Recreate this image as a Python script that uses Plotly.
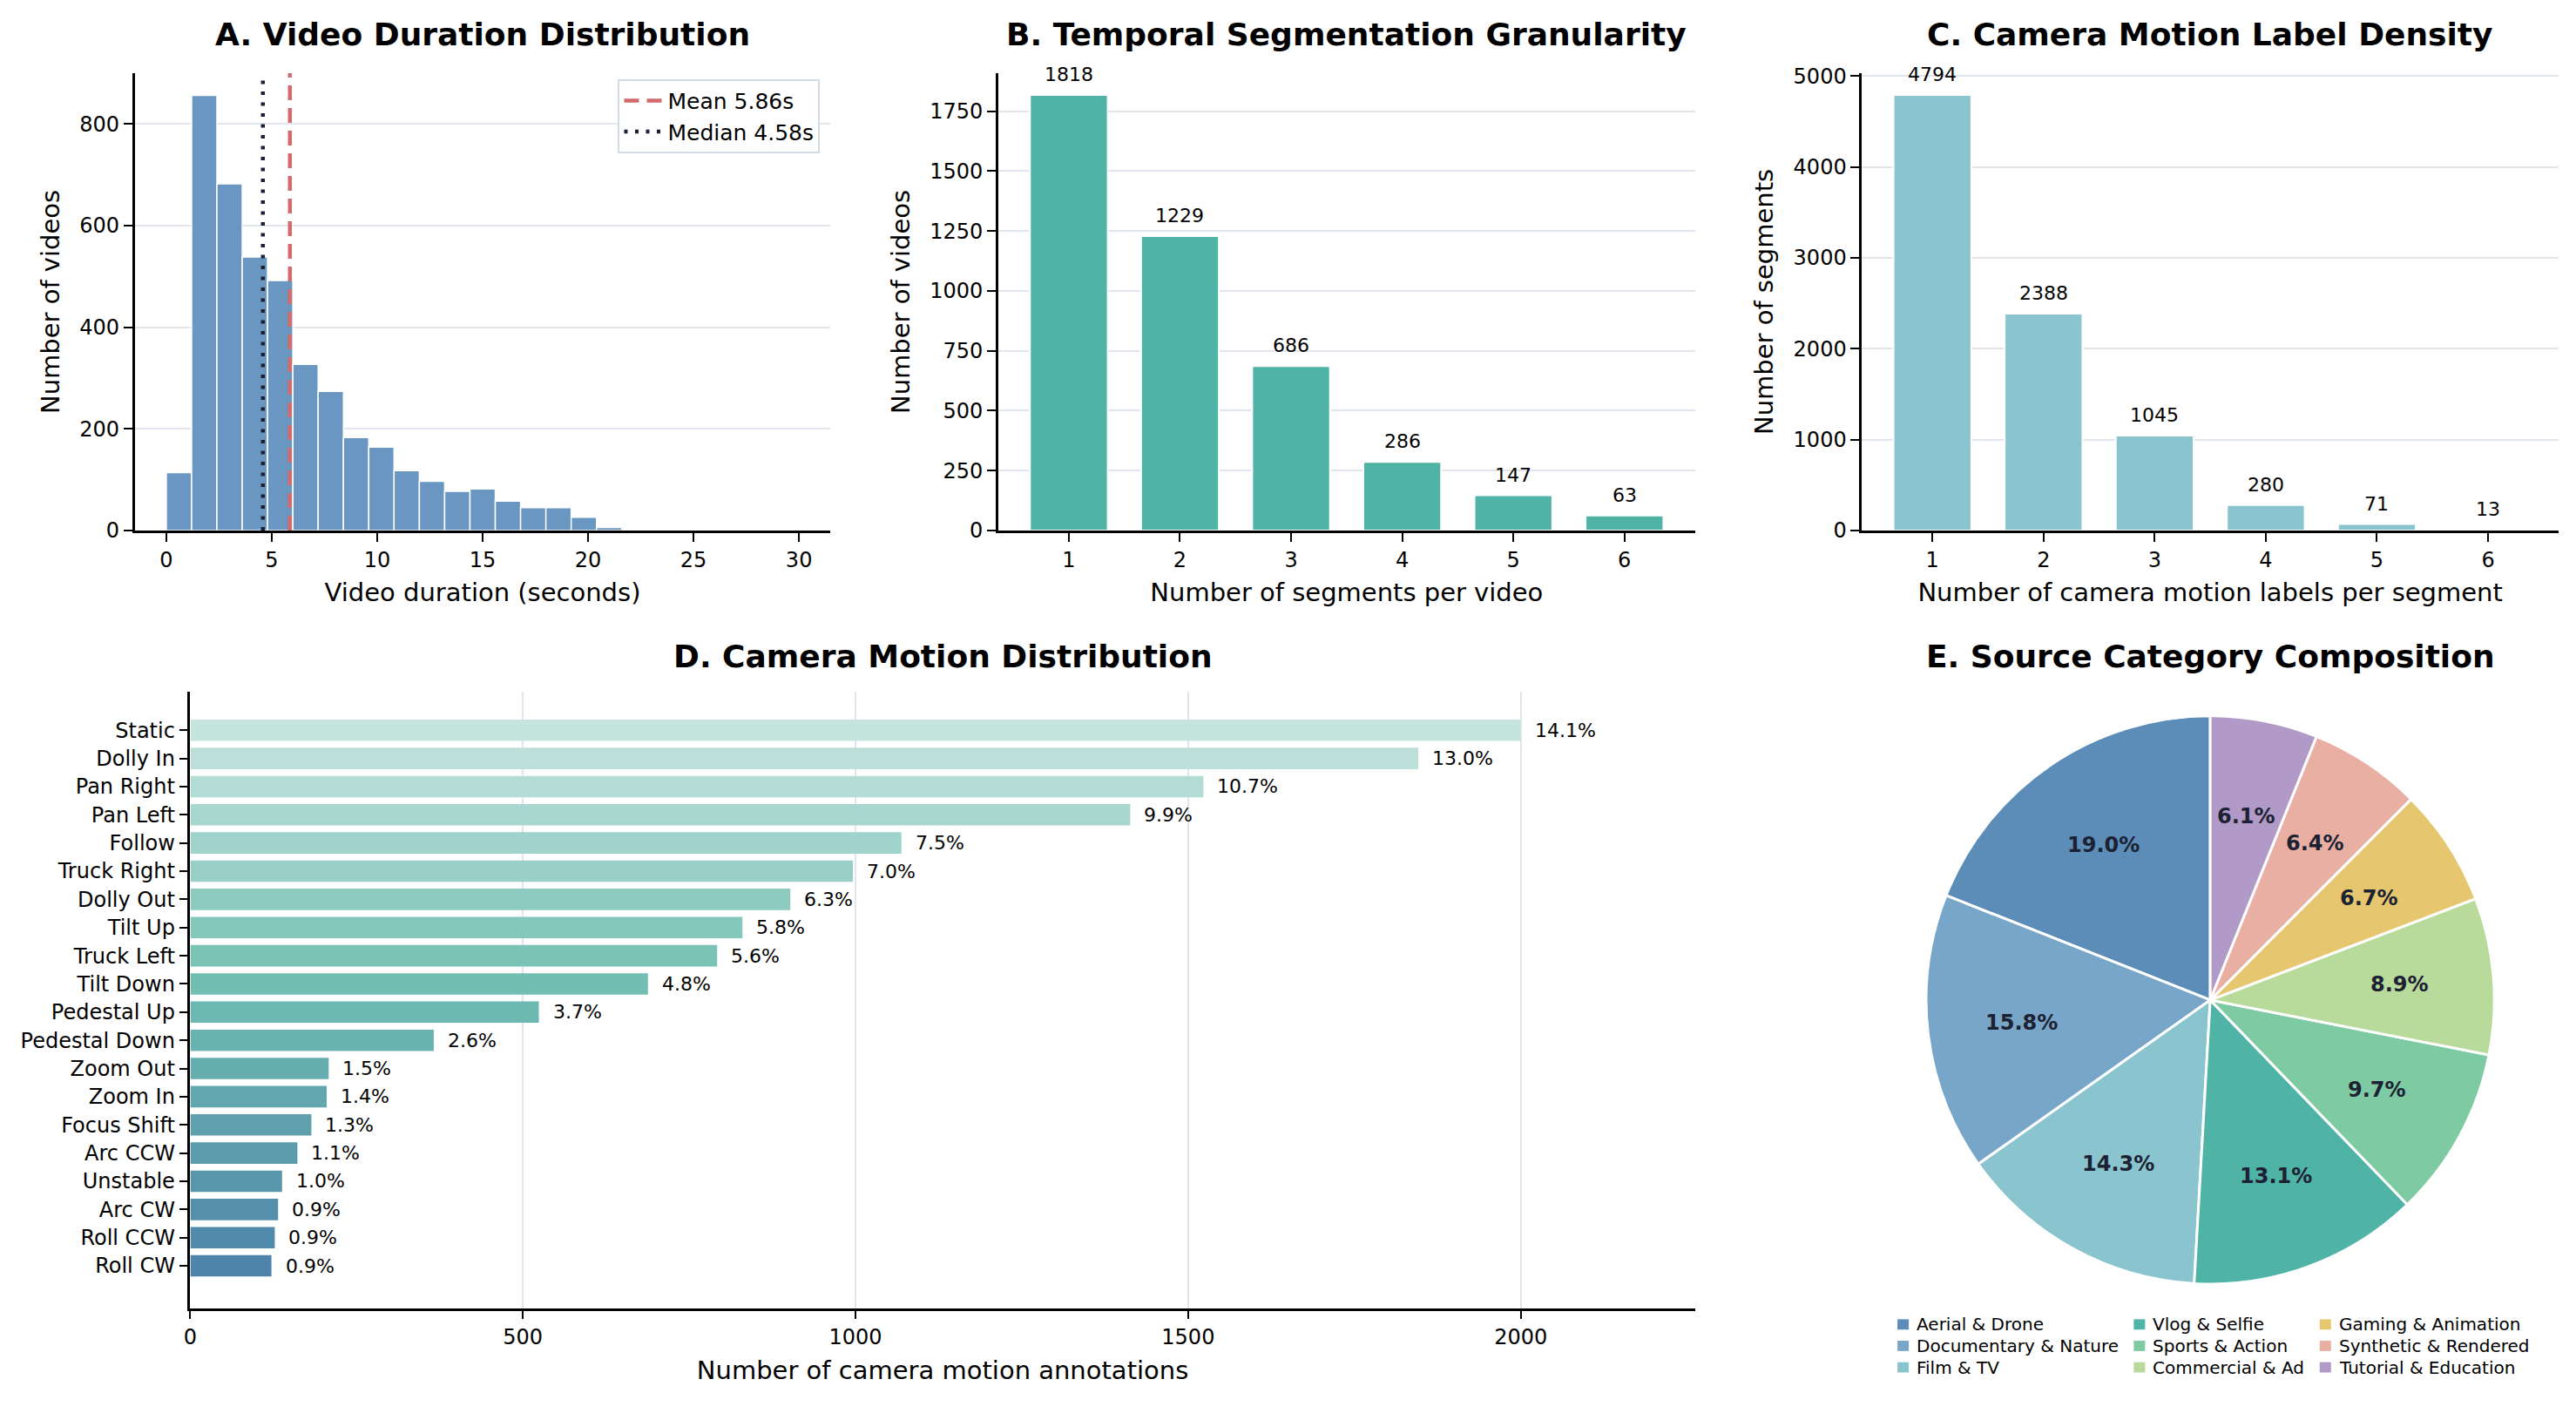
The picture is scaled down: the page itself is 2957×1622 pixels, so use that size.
import numpy as np
import plotly.graph_objects as go

# ---- A. durée des vidéos (histogramme déjà compté, 25 classes de 0 à 30 s)
duration_edges = np.linspace(0, 30, 26)
duration_counts = [114, 856, 682, 538, 492, 327, 274, 183, 164, 118, 97, 77, 82,
                   58, 45, 45, 26, 6, 0, 0, 0, 0, 0, 0, 0]
mean_duration = 5.86
median_duration = 4.58

# ---- B. segments par vidéo
segments_per_video = [1, 2, 3, 4, 5, 6]
videos_count = [1818, 1229, 686, 286, 147, 63]

# ---- C. labels de mouvement par segment
labels_per_segment = [1, 2, 3, 4, 5, 6]
segments_count = [4794, 2388, 1045, 280, 71, 13]

# ---- D. mouvements de caméra
motion_names = ["Static", "Dolly In", "Pan Right", "Pan Left", "Follow", "Truck Right",
                "Dolly Out", "Tilt Up", "Truck Left", "Tilt Down", "Pedestal Up",
                "Pedestal Down", "Zoom Out", "Zoom In", "Focus Shift", "Arc CCW",
                "Unstable", "Arc CW", "Roll CCW", "Roll CW"]
motion_counts = [2000, 1846, 1523, 1413, 1069, 996, 902, 830, 792, 688, 524, 366,
                 208, 205, 182, 161, 138, 132, 127, 122]

# ---- E. catégories de sources
source_names = ["Aerial & Drone", "Documentary & Nature", "Film & TV", "Vlog & Selfie",
                "Sports & Action", "Commercial & Ad", "Gaming & Animation",
                "Synthetic & Rendered", "Tutorial & Education"]
source_share = [19.0, 15.8, 14.3, 13.1, 9.7, 8.9, 6.7, 6.4, 6.1]
source_colors = ["#5b8db8", "#78a6c8", "#8ac5cf", "#4fb3a5", "#7ecba3",
                 "#b8da9a", "#e6c770", "#e8afa2", "#b19ac7"]

W, H = 2957, 1622
FONT = "DejaVu Sans"
GRID = "#e1e6ee"


def fx(p):
    return p / W


def fy(p):
    return 1 - p / H


def hex_rgb(h):
    return np.array([int(h[i:i + 2], 16) for i in (1, 3, 5)], dtype=float)


def gradient(n, anchors):
    # dégradé sur plusieurs couleurs
    pos = np.linspace(0, 1, len(anchors))
    cols = [hex_rgb(a) for a in anchors]
    out = []
    for t in np.linspace(0, 1, n):
        k = min(np.searchsorted(pos, t, side="right") - 1, len(anchors) - 2)
        u = (t - pos[k]) / (pos[k + 1] - pos[k])
        c = cols[k] * (1 - u) + cols[k + 1] * u
        out.append("rgb(%d,%d,%d)" % tuple(np.round(c)))
    return out


fig = go.Figure()

# A
centers = (duration_edges[:-1] + duration_edges[1:]) / 2
fig.add_trace(go.Bar(x=centers, y=duration_counts, width=duration_edges[1] - duration_edges[0],
                     marker=dict(color="#6a97c1", line=dict(color="white", width=1.5)),
                     showlegend=False, xaxis="x", yaxis="y"))
a_top = 900
fig.add_trace(go.Scatter(x=[mean_duration, mean_duration], y=[0, a_top], mode="lines",
                         line=dict(color="#d46a6a", width=4.5, dash="17px,9px"),
                         name=f"Mean {mean_duration:.2f}s", xaxis="x", yaxis="y"))
fig.add_trace(go.Scatter(x=[median_duration, median_duration], y=[0, a_top], mode="lines",
                         line=dict(color="#1a2035", width=4.5, dash="4px,8.5px"),
                         name=f"Median {median_duration:.2f}s", xaxis="x", yaxis="y"))

# B
fig.add_trace(go.Bar(x=segments_per_video, y=videos_count, width=0.7,
                     marker=dict(color="#4fb3a5", line=dict(color="white", width=2)),
                     showlegend=False, xaxis="x2", yaxis="y2"))
# C
fig.add_trace(go.Bar(x=labels_per_segment, y=segments_count, width=0.7,
                     marker=dict(color="#8ac5cf", line=dict(color="white", width=2)),
                     showlegend=False, xaxis="x3", yaxis="y3"))
# D
d_colors = gradient(len(motion_names), ["#c5e4de", "#6dbcb0", "#4e84aa"])
fig.add_trace(go.Bar(x=motion_counts, y=motion_names, orientation="h",
                     marker=dict(color=d_colors, line=dict(width=0)),
                     showlegend=False, xaxis="x4", yaxis="y4"))

# E : premier secteur qui part de midi vers la gauche (sens anti-horaire)
pie_cx, pie_cy, pie_r = 2536, 1155, 331
fig.add_trace(go.Pie(labels=source_names, values=source_share, sort=False,
                     direction="counterclockwise",
                     rotation=-360 * source_share[0] / sum(source_share),
                     marker=dict(colors=source_colors, line=dict(color="white", width=3)),
                     textinfo="none", showlegend=False,
                     domain=dict(x=[fx(pie_cx - pie_r), fx(pie_cx + pie_r)],
                                 y=[fy(pie_cy + pie_r), fy(pie_cy - pie_r)])))

axis = dict(showline=True, linecolor="black", linewidth=2.5, ticks="outside", ticklen=10,
            tickwidth=2.2, tickcolor="black", tickfont=dict(size=24, color="black"),
            zeroline=False, gridcolor=GRID, gridwidth=2)
title_font = dict(size=29, color="black")

fig.update_layout(
    width=W, height=H, margin=dict(l=0, r=0, t=0, b=0),
    paper_bgcolor="white", plot_bgcolor="white",
    font=dict(family=FONT, color="black"),
    bargap=0.24,
    xaxis=dict(axis, domain=[fx(147), fx(948)], anchor="y", range=[-1.5, 31.5],
               tickvals=[0, 5, 10, 15, 20, 25, 30], showgrid=False,
               title=dict(text="Video duration (seconds)", font=title_font)),
    yaxis=dict(axis, domain=[fy(608), fy(75)], anchor="x", range=[0, a_top],
               tickvals=[0, 200, 400, 600, 800], showgrid=True,
               title=dict(text="Number of videos", font=title_font)),
    xaxis2=dict(axis, domain=[fx(1141), fx(1943)], anchor="y2", range=[0.365, 6.635],
                tickvals=segments_per_video, showgrid=False,
                title=dict(text="Number of segments per video", font=title_font)),
    yaxis2=dict(axis, domain=[fy(608), fy(75)], anchor="x2", range=[0, 1909],
                tickvals=[0, 250, 500, 750, 1000, 1250, 1500, 1750], showgrid=True,
                title=dict(text="Number of videos", font=title_font)),
    xaxis3=dict(axis, domain=[fx(2135), fx(2937)], anchor="y3", range=[0.365, 6.635],
                tickvals=labels_per_segment, showgrid=False,
                title=dict(text="Number of camera motion labels per segment", font=title_font)),
    yaxis3=dict(axis, domain=[fy(608), fy(75)], anchor="x3", range=[0, 5034],
                tickvals=[0, 1000, 2000, 3000, 4000, 5000], showgrid=True,
                title=dict(text="Number of segments", font=title_font)),
    xaxis4=dict(axis, domain=[fx(211), fx(1943)], anchor="y4", range=[0, 2262],
                tickvals=[0, 500, 1000, 1500, 2000], showgrid=True,
                title=dict(text="Number of camera motion annotations", font=title_font)),
    yaxis4=dict(axis, domain=[fy(1514), fy(796)], anchor="x4", type="category",
                categoryorder="array", categoryarray=motion_names,
                range=[len(motion_names) + 0.5, -1.36], showgrid=False),
    legend=dict(x=fx(936), xanchor="right", y=fy(82), yanchor="top",
                bordercolor="#d3dce6", borderwidth=2, bgcolor="rgba(255,255,255,0.9)",
                font=dict(size=25, color="black"), tracegroupgap=0, itemwidth=45),
)

# titres des panneaux
titles = [("A. Video Duration Distribution", (147 + 948) / 2, 30),
          ("B. Temporal Segmentation Granularity", (1141 + 1943) / 2, 30),
          ("C. Camera Motion Label Density", (2135 + 2937) / 2, 30),
          ("D. Camera Motion Distribution", (211 + 1943) / 2, 755),
          ("E. Source Category Composition", pie_cx, 755)]
for txt, x, y in titles:
    fig.add_annotation(text=f"<b>{txt}</b>", x=fx(x), y=fy(y), xref="paper", yref="paper",
                       xanchor="center", yanchor="middle", showarrow=False,
                       font=dict(size=36, color="black"))

# valeurs au-dessus des barres
for xv, yv in zip(segments_per_video, videos_count):
    fig.add_annotation(x=xv, y=yv, text=str(yv), xref="x2", yref="y2", showarrow=False,
                       yanchor="bottom", yshift=9, font=dict(size=22, color="black"))
for xv, yv in zip(labels_per_segment, segments_count):
    fig.add_annotation(x=xv, y=yv, text=str(yv), xref="x3", yref="y3", showarrow=False,
                       yanchor="bottom", yshift=9, font=dict(size=22, color="black"))

# pourcentages du panneau D
total_motion = sum(motion_counts)
for name, v in zip(motion_names, motion_counts):
    fig.add_annotation(x=v, y=name, text=f"{100 * v / total_motion:.1f}%", xref="x4", yref="y4",
                       showarrow=False, xanchor="left", xshift=14,
                       font=dict(size=22, color="black"))

# pourcentages du camembert
cum = 0
for v in source_share:
    theta = np.radians(90 + 3.6 * (cum + v / 2))
    cum += v
    r = 0.66 * pie_r
    fig.add_annotation(x=fx(pie_cx + r * np.cos(theta)), y=fy(pie_cy - r * np.sin(theta)),
                       xref="paper", yref="paper", text=f"<b>{v:.1f}%</b>", showarrow=False,
                       xanchor="center", yanchor="middle",
                       font=dict(size=24, color="#1c2233"))

# légende du camembert : 3 colonnes, remplies colonne par colonne
leg_cols = [2176, 2448, 2662]
leg_rows = [1533, 1558, 1583]
for i, (name, col) in enumerate(zip(source_names, source_colors)):
    lx, ly = leg_cols[i // 3], leg_rows[i % 3]
    fig.add_shape(type="rect", xref="paper", yref="paper", x0=fx(lx), x1=fx(lx + 13),
                  y0=fy(ly + 6), y1=fy(ly - 6), fillcolor=col, line=dict(width=0))
    fig.add_annotation(text=name, x=fx(lx + 20), y=fy(ly), xref="paper", yref="paper",
                       xanchor="left", yanchor="middle", showarrow=False,
                       font=dict(size=20, color="black"))

fig.write_html("out.html", config={"displayModeBar": False},
               post_script="document.body.style.margin='0';")
